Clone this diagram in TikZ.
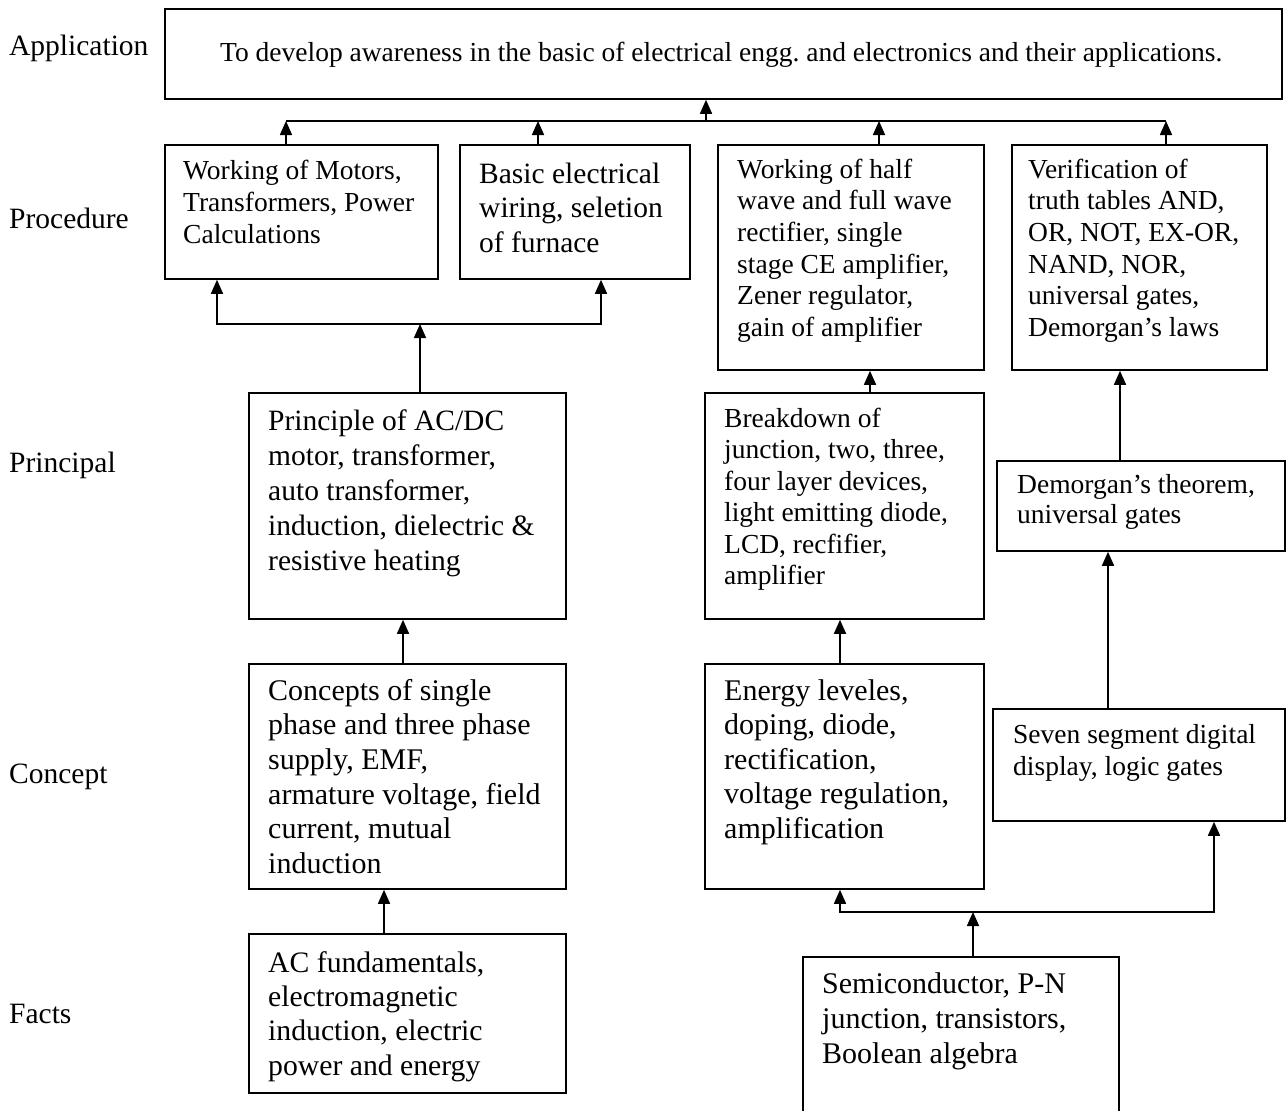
\documentclass[tikz,border=0pt]{standalone}
\usepackage{fontspec}
\setmainfont{Liberation Serif}
\usetikzlibrary{arrows.meta}
\frenchspacing
\tikzset{
  box/.style={draw, line width=1.8pt, inner sep=0pt, anchor=north west},
  txt/.style={align=left, inner sep=0pt, anchor=base west},
  lbl/.style={inner sep=0pt, anchor=base west, font=\fontsize{29.5pt}{34pt}\selectfont},
  conn/.style={line width=1.6pt},
  arr/.style={conn, -{Triangle[width=12pt,length=14pt]}},
  arrb/.style={conn, {Triangle[width=12pt,length=14pt]}-{Triangle[width=12pt,length=14pt]}},
}
\begin{document}
\begin{tikzpicture}[x=1pt, y=-1pt]
\useasboundingbox (0,0) rectangle (1286,1111);
\fill[white] (0,0) rectangle (1286,1111);

% level labels
\node[lbl] (lApp) at (9,55) {Application};
\node[lbl] (lProc) at (9,228) {Procedure};
\node[lbl] (lPrin) at (9,472) {Principal};
\node[lbl] (lConc) at (9,783) {Concept};
\node[lbl] (lFact) at (9,1023) {Facts};

% boxes
\node[box, minimum width=1117pt, minimum height=90pt] (app) at (164,8) {};
\node[box, minimum width=273pt, minimum height=134pt] (b1) at (164,144) {};
\node[box, minimum width=230pt, minimum height=134pt] (b2) at (459,144) {};
\node[box, minimum width=266pt, minimum height=225pt] (b3) at (717,144) {};
\node[box, minimum width=255pt, minimum height=225pt] (b4) at (1011,144) {};
\node[box, minimum width=317pt, minimum height=226pt] (p1) at (248,392) {};
\node[box, minimum width=279pt, minimum height=226pt] (p2) at (704,392) {};
\node[box, minimum width=288pt, minimum height=90pt] (p3) at (996,460) {};
\node[box, minimum width=317pt, minimum height=225pt] (c1) at (248,663) {};
\node[box, minimum width=279pt, minimum height=225pt] (c2) at (704,663) {};
\node[box, minimum width=292pt, minimum height=112pt] (c3) at (992,708) {};
\node[box, minimum width=317pt, minimum height=159pt] (f1) at (248,933) {};
\node[box, minimum width=316pt, minimum height=170pt] (f2) at (802,956) {};

% texts (anchor = baseline of the last line)
\node[txt, font=\fontsize{27.5pt}{32pt}\selectfont] (tapp) at (220,61)
  {To develop awareness in the basic of electrical engg. and electronics and their applications.};
\node[txt, font=\fontsize{27.5pt}{32pt}\selectfont] (tb1) at (183,243)
  {Working of Motors,\\Transformers, Power\\Calculations};
\node[txt, font=\fontsize{29.5pt}{34.5pt}\selectfont] (tb2) at (479,252)
  {Basic electrical\\wiring, seletion\\of furnace};
\node[txt, font=\fontsize{27.5pt}{31.7pt}\selectfont] (tb3) at (737,336.5)
  {Working of half\\wave and full wave\\rectifier, single\\stage CE amplifier,\\Zener regulator,\\gain of amplifier};
\node[txt, font=\fontsize{27.5pt}{31.7pt}\selectfont] (tb4) at (1028,336.5)
  {Verification of\\truth tables AND,\\OR, NOT, EX-OR,\\NAND, NOR,\\universal gates,\\Demorgan’s laws};
\node[txt, font=\fontsize{29.5pt}{35pt}\selectfont] (tp1) at (268,570)
  {Principle of AC/DC\\motor, transformer,\\auto transformer,\\induction, dielectric \&\\resistive heating};
\node[txt, font=\fontsize{27.5pt}{31.5pt}\selectfont] (tp2) at (724,584.5)
  {Breakdown of\\junction, two, three,\\four layer devices,\\light emitting diode,\\LCD, recfifier,\\amplifier};
\node[txt, font=\fontsize{27.5pt}{30.5pt}\selectfont] (tp3) at (1017,523.5)
  {Demorgan’s theorem,\\universal gates};
\node[txt, font=\fontsize{30pt}{34.7pt}\selectfont] (tc1) at (268,873.5)
  {Concepts of single\\phase and three phase\\supply, EMF,\\armature voltage, field\\current, mutual\\induction};
\node[txt, font=\fontsize{30pt}{34.6pt}\selectfont] (tc2) at (724,838.4)
  {Energy leveles,\\doping, diode,\\rectification,\\voltage regulation,\\amplification};
\node[txt, font=\fontsize{27.5pt}{32pt}\selectfont] (tc3) at (1013,775)
  {Seven segment digital\\display, logic gates};
\node[txt, font=\fontsize{29.7pt}{34.3pt}\selectfont] (tf1) at (268,1075)
  {AC fundamentals,\\electromagnetic\\induction, electric\\power and energy};
\node[txt, font=\fontsize{30pt}{35pt}\selectfont] (tf2) at (822,1063)
  {Semiconductor, P-N\\junction, transistors,\\Boolean algebra};

% top bus
\coordinate (busTL) at (286,121);
\coordinate (busTR) at (1166,121);
\coordinate (aApp) at (706,121);
\coordinate (a2) at (538,121);
\coordinate (a3) at (879,121);
\draw[conn] (busTL) -- (busTR);
\draw[arr] (b1.north -| busTL) -- (busTL);
\draw[arr] (b2.north -| a2) -- (a2);
\draw[arr] (b3.north -| a3) -- (a3);
\draw[arr] (b4.north -| busTR) -- (busTR);
\draw[arr] (aApp) -- (app.south -| aApp);

% left bus
\coordinate (lbL) at (217,324);
\coordinate (lbR) at (601,324);
\coordinate (lbM) at (420,324);
\draw[arr] (p1.north -| lbM) -- (lbM);
\draw[arrb] (b1.south -| lbL) -- (lbL) -- (lbR) -- (b2.south -| lbR);

\draw[arr] ([xshift=155pt]c1.north west) -- ([xshift=155pt]p1.south west);
\draw[arr] ([xshift=136pt]f1.north west) -- ([xshift=136pt]c1.south west);

% middle column
\draw[arr] ([xshift=166pt]p2.north west) -- ([xshift=153pt]b3.south west);
\draw[arr] ([xshift=136pt]c2.north west) -- ([xshift=136pt]p2.south west);

% bottom right bus
\coordinate (rbL) at (840,912);
\coordinate (rbR) at (1214,912);
\coordinate (rbM) at (973,912);
\draw[arr] (f2.north -| rbM) -- (rbM);
\draw[arrb] (c2.south -| rbL) -- (rbL) -- (rbR) -- (c3.south -| rbR);

% right column
\draw[arr] ([xshift=116pt]c3.north west) -- ([xshift=112pt]p3.south west);
\draw[arr] ([xshift=124pt]p3.north west) -- ([xshift=109pt]b4.south west);
\end{tikzpicture}
\end{document}
